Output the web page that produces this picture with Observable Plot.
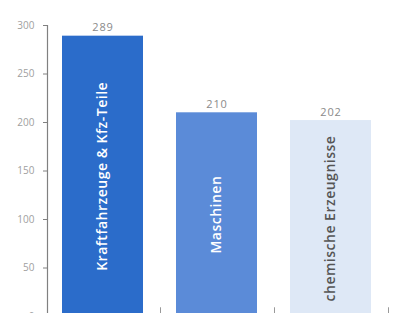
<!DOCTYPE html>
<html><head><meta charset="utf-8">
<script src="https://cdn.jsdelivr.net/npm/d3@7"></script>
<script src="https://cdn.jsdelivr.net/npm/@observablehq/plot@0.6"></script>
<style>html,body{margin:0;padding:0;background:#fff;} svg{display:block;}
.inbar text{letter-spacing:0.5px;} .vals text{letter-spacing:0.8px;}</style>
</head><body><div id="chart"></div>
<script>
const categories = ["Kraftfahrzeuge & Kfz-Teile", "Maschinen", "chemische Erzeugnisse"];
const values = [289, 210, 202];
const colors = ["#2b6cca", "#5b8bd8", "#dee8f6"];
const textColors = ["#ffffff", "#ffffff", "#555555"];
const yTicks = [0, 50, 100, 150, 200, 250, 300];

const data = categories.map((c, i) => ({cat: c, v: values[i], fill: colors[i], tc: textColors[i]}));

const chart = Plot.plot({
  width: 395, height: 313,
  marginLeft: 47, marginTop: 25, marginBottom: 0, marginRight: 8,
  style: {fontFamily: "Open Sans, sans-serif", background: "#fff"},
  x: {domain: categories, range: [47, 387], paddingInner: 0.287, paddingOuter: 0.122, axis: null},
  y: {domain: [0, 300], range: [316, 25], axis: null},
  marks: [
    Plot.frame({anchor: "left", stroke: "#808080", strokeWidth: 1.2}),
    Plot.axisY({ticks: yTicks, tickSize: 4, tickPadding: 9, fontSize: 10, color: "#a0a0a0", stroke: "#808080", label: null}),
    Plot.barY(data, {x: "cat", y: "v", fill: "fill"}),
    Plot.text(data, {x: "cat", y: "v", text: d => String(d.v), dy: -5, lineAnchor: "bottom", fontSize: 11, fill: "#8a8a8a", className: "vals"}),
    Plot.text(data, {x: "cat", y: d => d.v / 2, text: "cat", rotate: -90, fill: "tc", fontSize: 14, fontWeight: 600, className: "inbar"}),
    Plot.ruleX(data, {x: "cat", y1: 0, y2: 9, dx: 57.5, stroke: "#999"})
  ]
});
document.getElementById("chart").appendChild(chart);
</script>
</body></html>
